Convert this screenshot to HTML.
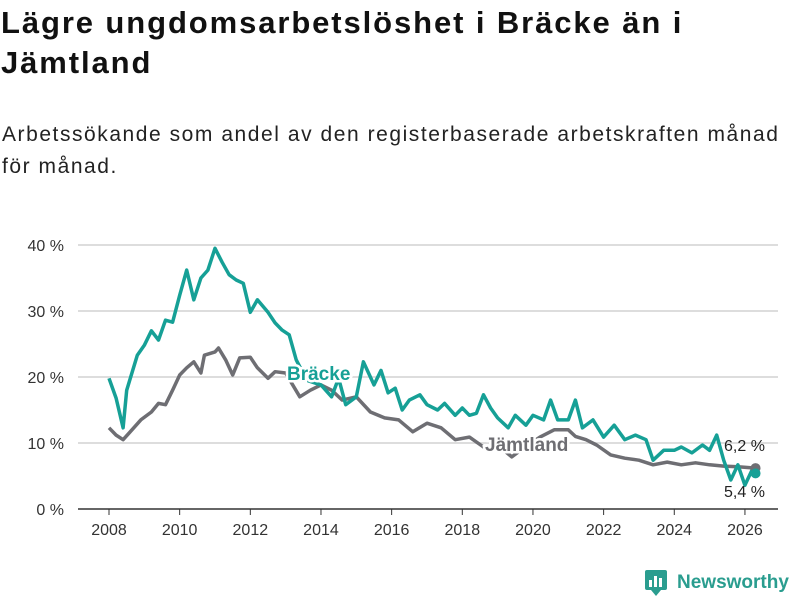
<!DOCTYPE html>
<html><head><meta charset="utf-8">
<style>
body{margin:0;width:800px;height:600px;background:#fff;font-family:"Liberation Sans",sans-serif;overflow:hidden;position:relative}
h1{position:absolute;left:1px;top:3px;margin:0;font-size:31px;line-height:40px;font-weight:bold;color:#111;width:798px;letter-spacing:1.9px;white-space:nowrap}
.sub{position:absolute;left:2px;top:119px;margin:0;font-size:21px;line-height:32px;color:#222;width:798px;letter-spacing:1.55px;white-space:nowrap}
svg{position:absolute;left:0;top:0}
</style></head><body>
<h1>Lägre ungdomsarbetslöshet i Bräcke än i<br>Jämtland</h1>
<p class="sub">Arbetssökande som andel av den registerbaserade arbetskraften månad<br>för månad.</p>
<svg id="chart" width="800" height="600"></svg>
<div style="position:absolute;left:645px;top:570px;height:26px;display:flex;align-items:center">
<svg width="24" height="26" style="position:static"><rect x="0" y="0" width="22" height="20" rx="2" fill="#2a9d8f"/><path d="M6 20 L11 26 L16 20Z" fill="#2a9d8f"/><rect x="4" y="10" width="3" height="7" fill="#fff"/><rect x="9" y="6" width="3" height="11" fill="#fff"/><rect x="14" y="8" width="3" height="9" fill="#fff"/></svg>
<span style="color:#2a9d8f;font-weight:bold;font-size:19px;margin-left:8px">Newsworthy</span></div>
<script>
const bYears=[2008.0,2008.2,2008.4,2008.5,2008.8,2009.0,2009.2,2009.4,2009.6,2009.8,2010.0,2010.2,2010.4,2010.6,2010.8,2011.0,2011.2,2011.4,2011.6,2011.8,2012.0,2012.2,2012.5,2012.7,2012.9,2013.1,2013.3,2013.6,2014.0,2014.3,2014.5,2014.7,2015.0,2015.2,2015.5,2015.7,2015.9,2016.1,2016.3,2016.5,2016.8,2017.0,2017.3,2017.5,2017.8,2018.0,2018.2,2018.4,2018.6,2018.8,2019.0,2019.3,2019.5,2019.8,2020.0,2020.3,2020.5,2020.7,2021.0,2021.2,2021.4,2021.7,2022.0,2022.3,2022.6,2022.9,2023.2,2023.4,2023.7,2024.0,2024.2,2024.5,2024.8,2025.0,2025.2,2025.4,2025.6,2025.8,2026.0,2026.2,2026.3];
const bracke=[19.8,16.8,12.3,18,23.3,24.8,27,25.6,28.6,28.3,32.4,36.2,31.7,35,36.2,39.5,37.4,35.5,34.7,34.2,29.8,31.7,29.8,28.2,27.1,26.4,22.6,19.5,18.8,17,19.8,15.8,17,22.3,18.8,21,17.6,18.3,15,16.5,17.3,15.8,15,16,14.2,15.3,14.2,14.5,17.3,15.3,13.8,12.3,14.2,12.7,14.2,13.5,16.5,13.5,13.5,16.5,12.3,13.5,10.9,12.7,10.5,11.2,10.5,7.4,8.9,8.9,9.4,8.5,9.7,8.9,11.2,7.4,4.4,6.7,3.6,5.9,5.4];
const jYears=[2008.0,2008.2,2008.4,2008.6,2008.9,2009.2,2009.4,2009.6,2009.8,2010.0,2010.2,2010.4,2010.6,2010.7,2011.0,2011.1,2011.3,2011.5,2011.7,2012.0,2012.2,2012.5,2012.7,2013.0,2013.4,2013.7,2014.0,2014.3,2014.6,2015.0,2015.4,2015.8,2016.2,2016.6,2017.0,2017.4,2017.8,2018.2,2018.6,2019.0,2019.4,2019.8,2020.2,2020.6,2021.0,2021.2,2021.5,2021.8,2022.2,2022.6,2023.0,2023.4,2023.8,2024.2,2024.6,2025.0,2025.4,2025.8,2026.3];
const jamtland=[12.3,11.2,10.5,11.7,13.5,14.7,16,15.8,18,20.3,21.4,22.3,20.6,23.3,23.8,24.4,22.6,20.3,22.9,23,21.4,19.8,20.8,20.6,17,18,18.8,18,16.5,17,14.7,13.8,13.5,11.7,13,12.3,10.5,10.9,9.4,9.7,7.9,9.5,10.9,12,12,11,10.5,9.7,8.2,7.7,7.4,6.7,7.1,6.7,7,6.7,6.5,6.4,6.2];
const yTicks=[0,10,20,30,40];
const xTicks=[2008,2010,2012,2014,2016,2018,2020,2022,2024,2026];
const x=v=>109+(v-2008)*35.33, y=v=>509-v*6.6;
const svg=document.getElementById('chart'),NS='http://www.w3.org/2000/svg';
function mk(t,a,txt){const e=document.createElementNS(NS,t);for(const k in a)e.setAttribute(k,a[k]);if(txt!=null)e.textContent=txt;svg.appendChild(e);return e;}
yTicks.forEach(t=>{
 const g=mk('line',{x1:78,x2:778,y1:y(t),y2:y(t),stroke:t?'#ddd':'#333','stroke-width':t?2:1.5});
 
 
 const l=mk('text',{x:64,y:y(t)+6,'text-anchor':'end','font-size':16,fill:'#333'},t+' %');
 
 
});
xTicks.forEach(t=>{
 mk('line',{x1:x(t),x2:x(t),y1:509,y2:515,stroke:'#333'});
 const l=mk('text',{x:x(t),y:535,'text-anchor':'middle','font-size':16,fill:'#333'},t);
 
 
});
function line(xs,vs,c,name){
 const p=mk('path',{d:xs.map((v,i)=>(i?'L':'M')+x(v).toFixed(1)+' '+y(vs[i]).toFixed(1)).join(''),fill:'none',stroke:c,'stroke-width':3.5,'stroke-linejoin':'round'});
 
 
}
line(jYears,jamtland,'#6e6e73','jamtland-line');
line(bYears,bracke,'#16a096','bracke-line');
function lab(tx,ty,s,c,name){const t=mk('text',{x:tx,y:ty,'font-size':19,'font-weight':'bold',fill:c,stroke:'#fff','stroke-width':5,'paint-order':'stroke'},s);
 
 }
lab(287,380,'Bräcke','#16a096','bracke-label');
lab(485,451,'Jämtland','#6e6e73','jamtland-label');
const d1=mk('circle',{cx:x(jYears[jYears.length-1]),cy:y(jamtland[jamtland.length-1]),r:5,fill:'#6e6e73'});


const d2=mk('circle',{cx:x(bYears[bYears.length-1]),cy:y(bracke[bracke.length-1]),r:5,fill:'#16a096'});


const v1=mk('text',{x:724,y:451,'font-size':16,fill:'#222'},'6,2 %');


const v2=mk('text',{x:724,y:497,'font-size':16,fill:'#222'},'5,4 %');


</script>
</body></html>
